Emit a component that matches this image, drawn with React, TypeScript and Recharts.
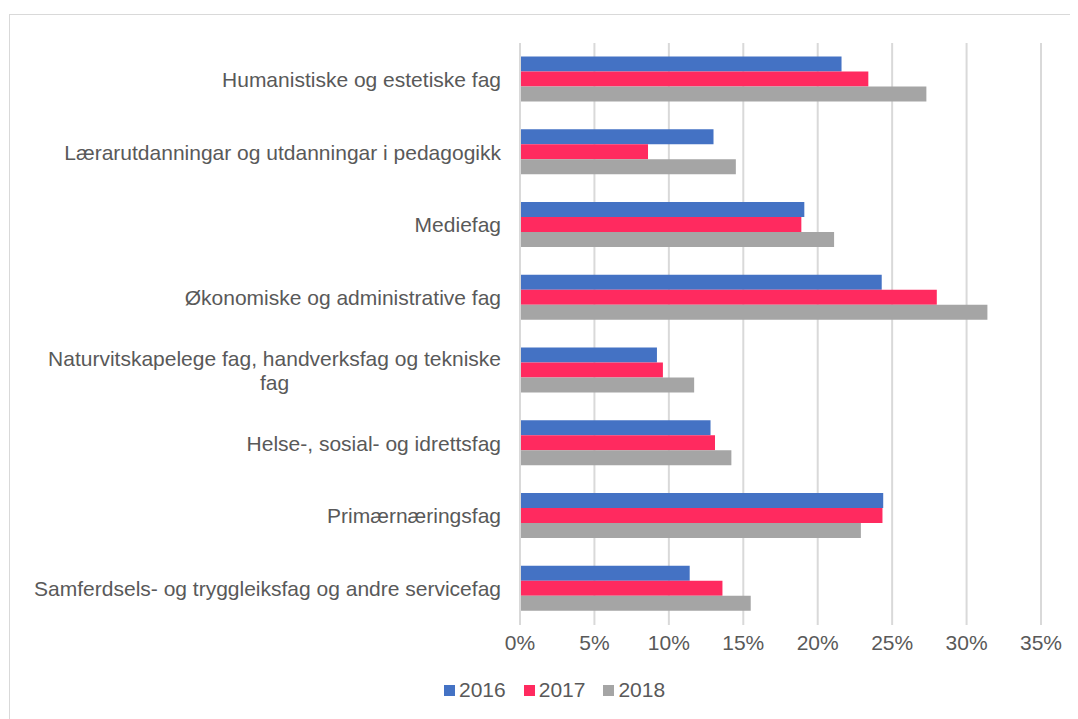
import React from "react"
import { BarChart, Bar, XAxis, YAxis, CartesianGrid, Legend } from "recharts"

const categories = [
  "Humanistiske og estetiske fag",
  "Lærarutdanningar og utdanningar i pedagogikk",
  "Mediefag",
  "Økonomiske og administrative fag",
  "Naturvitskapelege fag, handverksfag og tekniske fag",
  "Helse-, sosial- og idrettsfag",
  "Primærnæringsfag",
  "Samferdsels- og tryggleiksfag og andre servicefag",
]
const values2016 = [21.6, 13.0, 19.1, 24.3, 9.2, 12.8, 24.4, 11.4]
const values2017 = [23.4, 8.6, 18.9, 28.0, 9.6, 13.1, 24.35, 13.6]
const values2018 = [27.3, 14.5, 21.1, 31.4, 11.7, 14.2, 22.9, 15.5]
const years = ["2016", "2017", "2018"]
const colors = ["#4472C4", "#FF2A5F", "#A5A5A5"]
const xTicks = [0, 5, 10, 15, 20, 25, 30, 35]

const FONT = '"Liberation Sans", Arial, sans-serif'
const TEXT = "#595959"
const SIZE = 21

const data = categories.map((name, i) => ({
  name,
  "2016": values2016[i],
  "2017": values2017[i],
  "2018": values2018[i],
}))

let ctx: CanvasRenderingContext2D | null = null
function measure(s: string) {
  if (!ctx) ctx = document.createElement("canvas").getContext("2d")
  if (!ctx) return s.length * SIZE * 0.5
  ctx.font = `${SIZE}px "Liberation Sans", Arial, sans-serif`
  return ctx.measureText(s).width
}

// simple word wrap, like Excel does for long category names
function wrap(label: string, maxW: number) {
  const words = label.split(" ")
  const lines: string[] = []
  let cur = ""
  words.forEach((w) => {
    const next = cur ? cur + " " + w : w
    if (cur && measure(next) > maxW) {
      lines.push(cur)
      cur = w
    } else {
      cur = next
    }
  })
  if (cur) lines.push(cur)
  return lines
}

function CategoryTick(props: any) {
  const { x, y, payload } = props
  const lines = wrap(String(payload.value), 478)
  const lh = 24
  const w0 = measure(lines[0])
  const y0 = y - ((lines.length - 1) * lh) / 2
  return (
    <g>
      {lines.map((l, i) => (
        <text
          key={i}
          x={i === 0 ? x : x - w0 / 2}
          y={y0 + i * lh}
          dy="0.355em"
          textAnchor={i === 0 ? "end" : "middle"}
          fill={TEXT}
          fontSize={SIZE}
          fontFamily={FONT}
        >
          {l}
        </text>
      ))}
    </g>
  )
}

function LegendContent(props: any) {
  const items = props.payload || []
  return (
    <div style={{ display: "flex", alignItems: "center", fontFamily: FONT, fontSize: SIZE, color: TEXT, lineHeight: "24px" }}>
      {items.map((it: any) => (
        <div key={it.value} style={{ display: "flex", alignItems: "center", marginRight: 18 }}>
          <span style={{ display: "inline-block", width: 11, height: 11, background: it.color, marginRight: 4 }} />
          {it.value}
        </div>
      ))}
    </div>
  )
}

export default function App() {
  return (
    <div style={{ position: "relative", width: 1070, height: 711, overflow: "hidden", background: "#fff" }}>
      <div
        style={{
          position: "absolute",
          left: 1,
          top: 6,
          width: 1200,
          height: 800,
          border: "1px solid #d9d9d9",
        }}
      />
      <div style={{ position: "absolute", left: 0, top: 0 }}>
        <BarChart
          width={1070}
          height={711}
          data={data}
          layout="vertical"
          margin={{ top: 35, right: 37, left: 0, bottom: 54 }}
          barCategoryGap="18.5%"
          barGap={0}
        >
          <CartesianGrid horizontal={false} stroke="#d9d9d9" strokeWidth={2} />
          <XAxis
            type="number"
            domain={[0, 35]}
            ticks={xTicks}
            tickFormatter={(v) => `${v}%`}
            axisLine={false}
            tickLine={false}
            tickSize={0}
            tickMargin={10}
            height={40}
            tick={{ fill: TEXT, fontSize: SIZE, fontFamily: FONT }}
          />
          <YAxis
            type="category"
            dataKey="name"
            width={512}
            axisLine={{ stroke: "#d9d9d9", strokeWidth: 2 }}
            tickLine={false}
            tickSize={0}
            tickMargin={19}
            interval={0}
            tick={<CategoryTick />}
          />
          <Legend
            layout="horizontal"
            verticalAlign="middle"
            align="center"
            content={<LegendContent />}
            wrapperStyle={{ top: 670, left: 436, width: 260 }}
          />
          {years.map((yr, i) => (
            <Bar key={yr} dataKey={yr} fill={colors[i]} isAnimationActive={false} />
          ))}
        </BarChart>
      </div>
    </div>
  )
}
